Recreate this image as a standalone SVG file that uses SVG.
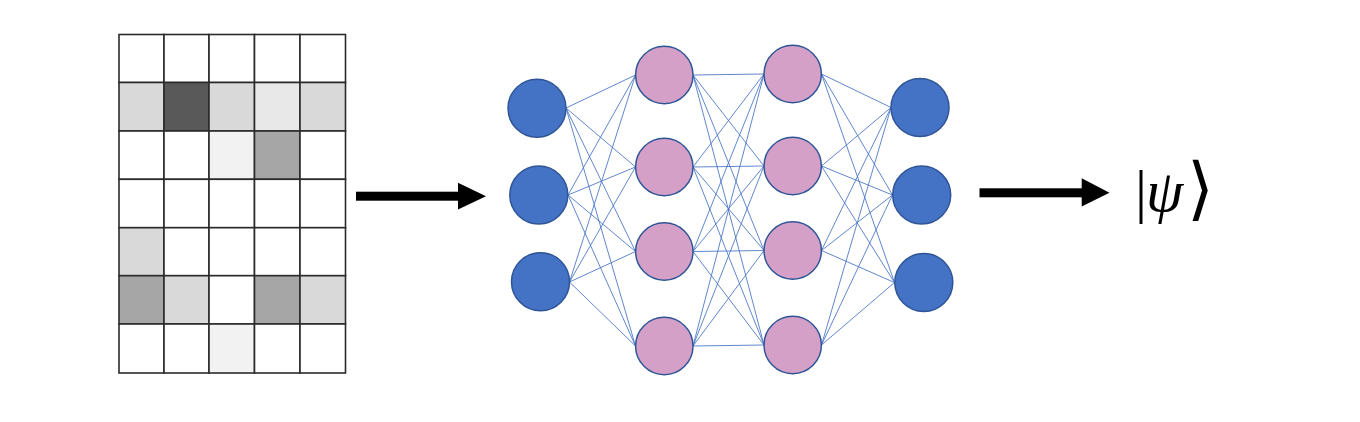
<svg xmlns="http://www.w3.org/2000/svg" width="1360" height="422" viewBox="0 0 1360 422">
<style>
.cell{stroke:#2b2b2b;stroke-width:1.6}
.in{fill:#4472c4;stroke:#2f5597;stroke-width:1.5}
.hid{fill:#d5a0c8;stroke:#2f5597;stroke-width:1.5}
.edge{stroke:#4472c4;stroke-width:1;stroke-opacity:0.85;fill:none}
.arr{fill:#000}
.ket{font-family:"Liberation Serif","DejaVu Serif",serif;font-size:60px;fill:#000}
</style>
<rect width="1360" height="422" fill="#fff"/>
<g id="grid">
<rect class="cell" x="119" y="34.5" width="45" height="48" fill="#fff"/>
<rect class="cell" x="164" y="34.5" width="45" height="48" fill="#fff"/>
<rect class="cell" x="209" y="34.5" width="45.5" height="48" fill="#fff"/>
<rect class="cell" x="254.5" y="34.5" width="45.5" height="48" fill="#fff"/>
<rect class="cell" x="300" y="34.5" width="45.5" height="48" fill="#fff"/>
<rect class="cell" x="119" y="82.5" width="45" height="48.5" fill="#d9d9d9"/>
<rect class="cell" x="164" y="82.5" width="45" height="48.5" fill="#595959"/>
<rect class="cell" x="209" y="82.5" width="45.5" height="48.5" fill="#d9d9d9"/>
<rect class="cell" x="254.5" y="82.5" width="45.5" height="48.5" fill="#e8e8e8"/>
<rect class="cell" x="300" y="82.5" width="45.5" height="48.5" fill="#d9d9d9"/>
<rect class="cell" x="119" y="131" width="45" height="48.3" fill="#fff"/>
<rect class="cell" x="164" y="131" width="45" height="48.3" fill="#fff"/>
<rect class="cell" x="209" y="131" width="45.5" height="48.3" fill="#f2f2f2"/>
<rect class="cell" x="254.5" y="131" width="45.5" height="48.3" fill="#a6a6a6"/>
<rect class="cell" x="300" y="131" width="45.5" height="48.3" fill="#fff"/>
<rect class="cell" x="119" y="179.3" width="45" height="48.4" fill="#fff"/>
<rect class="cell" x="164" y="179.3" width="45" height="48.4" fill="#fff"/>
<rect class="cell" x="209" y="179.3" width="45.5" height="48.4" fill="#fff"/>
<rect class="cell" x="254.5" y="179.3" width="45.5" height="48.4" fill="#fff"/>
<rect class="cell" x="300" y="179.3" width="45.5" height="48.4" fill="#fff"/>
<rect class="cell" x="119" y="227.7" width="45" height="48" fill="#d9d9d9"/>
<rect class="cell" x="164" y="227.7" width="45" height="48" fill="#fff"/>
<rect class="cell" x="209" y="227.7" width="45.5" height="48" fill="#fff"/>
<rect class="cell" x="254.5" y="227.7" width="45.5" height="48" fill="#fff"/>
<rect class="cell" x="300" y="227.7" width="45.5" height="48" fill="#fff"/>
<rect class="cell" x="119" y="275.7" width="45" height="48.3" fill="#a6a6a6"/>
<rect class="cell" x="164" y="275.7" width="45" height="48.3" fill="#d9d9d9"/>
<rect class="cell" x="209" y="275.7" width="45.5" height="48.3" fill="#fff"/>
<rect class="cell" x="254.5" y="275.7" width="45.5" height="48.3" fill="#a6a6a6"/>
<rect class="cell" x="300" y="275.7" width="45.5" height="48.3" fill="#d9d9d9"/>
<rect class="cell" x="119" y="324" width="45" height="49" fill="#fff"/>
<rect class="cell" x="164" y="324" width="45" height="49" fill="#fff"/>
<rect class="cell" x="209" y="324" width="45.5" height="49" fill="#f2f2f2"/>
<rect class="cell" x="254.5" y="324" width="45.5" height="49" fill="#fff"/>
<rect class="cell" x="300" y="324" width="45.5" height="49" fill="#fff"/>
</g>
<g id="connectors">
<path class="edge" d="M566 108 L635.5 75 M566 108 L635.5 167 M566 108 L635.5 251.5 M566 108 L635.5 346
M568 195 L635.5 75 M568 195 L635.5 167 M568 195 L635.5 251.5 M568 195 L635.5 346
M569.5 282 L635.5 75 M569.5 282 L635.5 167 M569.5 282 L635.5 251.5 M569.5 282 L635.5 346"/>
<path class="edge" d="M693 75 L764 74 M693 75 L764 166 M693 75 L764 250.5 M693 75 L764 345
M693 167 L764 74 M693 167 L764 166 M693 167 L764 250.5 M693 167 L764 345
M693 251.5 L764 74 M693 251.5 L764 166 M693 251.5 L764 250.5 M693 251.5 L764 345
M693 346 L764 74 M693 346 L764 166 M693 346 L764 250.5 M693 346 L764 345"/>
<path class="edge" d="M821.5 74 L891 107.5 M821.5 74 L892.5 195 M821.5 74 L894.5 282.5
M821.5 166 L891 107.5 M821.5 166 L892.5 195 M821.5 166 L894.5 282.5
M821.5 250.5 L891 107.5 M821.5 250.5 L892.5 195 M821.5 250.5 L894.5 282.5
M821.5 345 L891 107.5 M821.5 345 L892.5 195 M821.5 345 L894.5 282.5"/>
</g>
<g id="input-layer">
<circle class="in" cx="537" cy="108.3" r="29"/>
<circle class="in" cx="538.8" cy="195" r="29"/>
<circle class="in" cx="540.5" cy="281.7" r="29"/>
</g>
<g id="hidden-layer-1">
<circle class="hid" cx="664.3" cy="75" r="28.7"/>
<circle class="hid" cx="664.3" cy="167" r="28.7"/>
<circle class="hid" cx="664.3" cy="251.5" r="28.7"/>
<circle class="hid" cx="664.3" cy="346" r="28.7"/>
</g>
<g id="hidden-layer-2">
<circle class="hid" cx="792.7" cy="74" r="28.7"/>
<circle class="hid" cx="792.7" cy="166" r="28.7"/>
<circle class="hid" cx="792.7" cy="250.5" r="28.7"/>
<circle class="hid" cx="792.7" cy="345" r="28.7"/>
</g>
<g id="output-layer">
<circle class="in" cx="920" cy="107.5" r="29"/>
<circle class="in" cx="921.7" cy="195" r="29"/>
<circle class="in" cx="923.8" cy="282.5" r="29"/>
</g>
<g id="arrow-in">
<rect class="arr" x="356" y="191.7" width="104" height="9"/>
<polygon class="arr" points="458,182.7 486,196.2 458,209.5"/>
</g>
<g id="arrow-out">
<rect class="arr" x="979.5" y="188.3" width="104" height="9"/>
<polygon class="arr" points="1081.7,178.3 1109.5,192.8 1081.7,206.5"/>
</g>
<g id="psi">
<text class="ket" x="1135" y="211">|<tspan x="1146" font-style="italic">ψ</tspan><tspan x="1187" y="212" font-family="DejaVu Sans, sans-serif" font-weight="200" font-size="69">⟩</tspan></text>
</g>
</svg>
